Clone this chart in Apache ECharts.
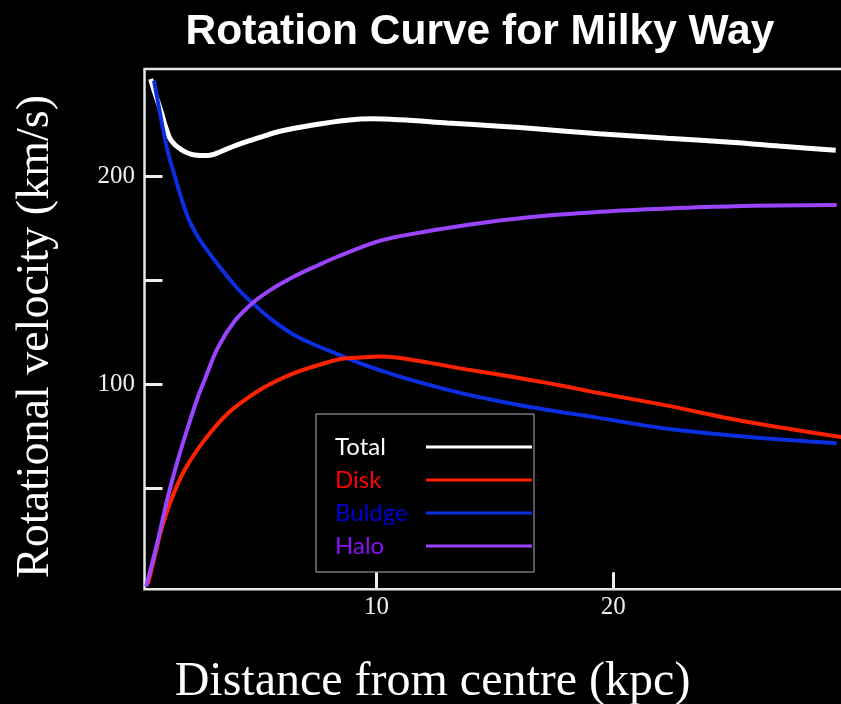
<!DOCTYPE html>
<html>
<head>
<meta charset="utf-8">
<script src="https://cdn.jsdelivr.net/npm/echarts@6/dist/echarts.min.js"></script>
<style>
  html, body { margin: 0; padding: 0; background: #000; }
  #chart { width: 841px; height: 704px; }
</style>
</head>
<body>
<div id="chart"></div>
<script>
// Galactic rotation curve: distance (kpc) vs. rotational velocity (km/s)
const seriesNames = ['Total', 'Disk', 'Buldge', 'Halo'];

const totalX = [0.46, 0.63, 0.91, 1.12, 1.33, 1.75, 2.32, 2.88, 3.30, 3.86, 4.57, 5.42, 5.92, 7.32, 8.75, 9.85, 11.0, 13.0, 15.2, 16.6, 19.4, 22.3, 25.1, 27.0, 29.4];
const totalV = [246.7, 240.3, 230.7, 222.7, 217.1, 212.8, 210.2, 209.9, 211.2, 213.9, 216.8, 219.9, 221.6, 224.6, 226.9, 227.6, 227.1, 225.6, 224.0, 222.9, 220.4, 218.2, 216.2, 214.5, 212.5];

const diskX = [0.35, 0.63, 0.91, 1.33, 1.9, 2.74, 3.73, 4.85, 5.7, 6.77, 8.04, 8.6, 9.16, 10.15, 10.85, 12.26, 13.67, 15.08, 16.49, 17.89, 19.02, 22.12, 25.64, 30.0];
const diskV = [4.1, 17.2, 30.1, 44.5, 58.9, 73.3, 86.1, 95.7, 101.2, 106.4, 110.9, 112.4, 112.7, 113.3, 112.9, 110.3, 107.4, 104.8, 102.1, 99.2, 96.6, 90.1, 82.0, 74.0];

const bulgeX = [0.6, 0.77, 0.98, 1.19, 1.47, 1.75, 1.9, 2.04, 2.3, 2.6, 3.44, 4.15, 4.78, 5.56, 6.54, 7.53, 8.2, 9.44, 10.85, 12.26, 13.67, 15.08, 16.49, 17.89, 19.0, 22.12, 25.64, 29.44];
const bulgeV = [245.9, 235.5, 222.7, 211.5, 200.3, 189.6, 184.5, 180.0, 173.9, 168.3, 155.5, 145.8, 138.9, 131.2, 123.6, 118.3, 115.2, 109.6, 104.2, 99.6, 95.5, 92.1, 89.1, 86.5, 84.6, 78.9, 74.8, 71.7];

const haloX = [0.27, 0.77, 1.19, 1.61, 2.04, 2.46, 2.74, 3.3, 4.01, 4.78, 5.56, 6.54, 7.53, 8.37, 9.93, 11.0, 13.81, 16.63, 19.44, 22.26, 25.07, 29.44];
const haloV = [2.8, 25.3, 46, 63.7, 79.6, 94, 102.1, 117.6, 130.4, 139.2, 145.6, 151.9, 157.2, 161.4, 168.2, 171.2, 176.5, 180.5, 182.9, 184.5, 185.6, 186.1];

const xTicks = [10, 20];
const yTicks = [50, 100, 150, 200];
const yTickLabels = [100, 200];

const pairs = (xs, vs) => xs.map((x, i) => [x, vs[i]]);

const lineColors = { Total: '#ffffff', Disk: '#ff2200', Buldge: '#0a2ee0', Halo: '#9a44ff' };
const textColors = { Total: '#ffffff', Disk: '#ff0000', Buldge: '#0000d4', Halo: '#8a10f5' };

const chart = echarts.init(document.getElementById('chart'));

function curve(name, xs, vs, width, z) {
  return {
    name: name,
    type: 'line',
    data: pairs(xs, vs),
    symbol: 'none',
    smooth: 0.35,
    z: z,
    lineStyle: { color: lineColors[name], width: width },
    itemStyle: { color: lineColors[name] }
  };
}

chart.setOption({
  backgroundColor: '#000000',
  animation: false,
  title: {
    text: 'Rotation Curve for Milky Way',
    left: 475,
    top: 6,
    textAlign: 'center',
    textStyle: { color: '#ffffff', fontFamily: 'Liberation Sans, Arial, sans-serif', fontWeight: 'bold', fontSize: 42.5 }
  },
  grid: {
    left: 144.5, top: 69, width: 705.4, height: 520.3,
    show: true, borderColor: '#e6e6e6', borderWidth: 2.5,
    outerBoundsMode: 'none'
  },
  legend: {
    orient: 'vertical',
    left: 316, top: 414,
    align: 'right',
    padding: [21, 2, 14, 19],
    itemGap: 9,
    itemWidth: 106,
    itemHeight: 3,
    icon: 'rect',
    backgroundColor: '#000000',
    borderColor: '#b0b0b0',
    borderWidth: 1,
    formatter: '{t|{name}}',
    textStyle: {
      fontFamily: 'Lato, sans-serif',
      fontSize: 24,
      rich: { t: { width: 86, align: 'left', fontFamily: 'Lato, sans-serif', fontSize: 24, lineHeight: 24 } }
    },
    data: seriesNames.map(n => ({ name: n, textStyle: { color: textColors[n] } }))
  },
  xAxis: {
    type: 'value',
    min: 0.2, max: 30,
    axisLine: { show: false },
    splitLine: { show: false },
    axisTick: { inside: true, length: 17, customValues: xTicks, lineStyle: { color: '#eeeeee', width: 3 } },
    axisLabel: { customValues: xTicks, margin: 6, color: '#eeeeee', fontFamily: 'Liberation Serif, serif', fontSize: 25 }
  },
  yAxis: {
    type: 'value',
    min: 1.5, max: 251.5,
    axisLine: { show: false },
    splitLine: { show: false },
    axisTick: { inside: true, length: 18, customValues: yTicks, lineStyle: { color: '#eeeeee', width: 3 } },
    axisLabel: { customValues: yTickLabels, margin: 9.5, color: '#eeeeee', fontFamily: 'Liberation Serif, serif', fontSize: 25 }
  },
  graphic: [
    {
      type: 'text',
      x: 36, y: 336.5,
      rotation: Math.PI / 2,
      style: {
        text: 'Rotational velocity (km/s)',
        fill: '#ffffff',
        font: '46px "Liberation Serif", serif',
        textAlign: 'center',
        textVerticalAlign: 'middle'
      }
    },
    {
      type: 'text',
      x: 432.5, y: 682,
      style: {
        text: 'Distance from centre (kpc)',
        fill: '#ffffff',
        font: '48px "Liberation Serif", serif',
        textAlign: 'center',
        textVerticalAlign: 'middle'
      }
    }
  ],
  series: [
    curve('Total', totalX, totalV, 5, 1),
    curve('Disk', diskX, diskV, 4, 3),
    curve('Buldge', bulgeX, bulgeV, 4, 2),
    curve('Halo', haloX, haloV, 4, 4)
  ]
});
</script>
</body>
</html>
